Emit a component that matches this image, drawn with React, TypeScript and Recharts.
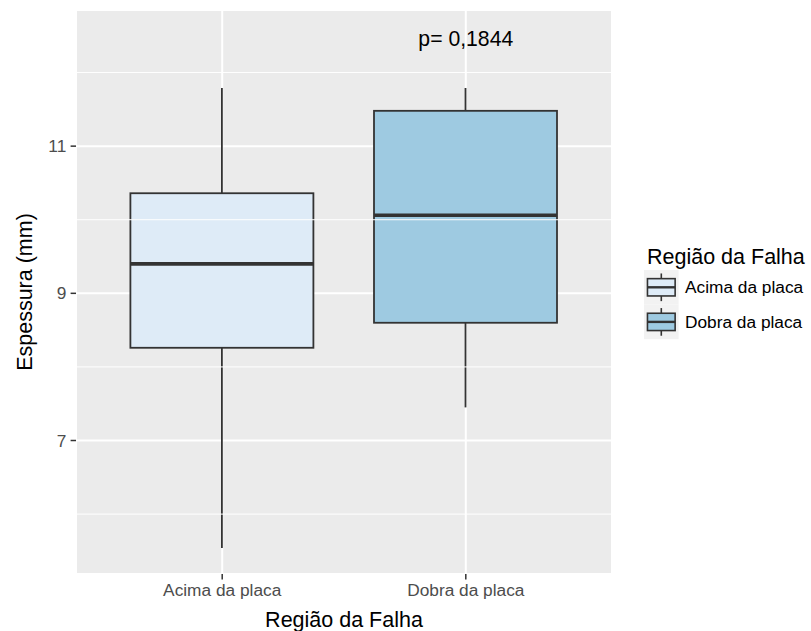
import {
  ComposedChart,
  Bar,
  XAxis,
  YAxis,
  CartesianGrid,
  ReferenceLine,
  ReferenceDot,
  Legend,
} from "recharts";

// five-number summary per failure region
const categories = ["Acima da placa", "Dobra da placa"];
const lowerWhisker = [5.54, 7.45];
const firstQuartile = [8.26, 8.6];
const medians = [9.4, 10.06];
const thirdQuartile = [10.36, 11.48];
const upperWhisker = [11.79, 11.79];
const fills = ["#deebf7", "#9ecae1"];

const yTicks = [7, 9, 11];
const yMinorTicks = [6, 8, 10, 12];
const yDomain = [5.186, 12.85];

const pValueText = "p= 0,1844";
const pValueY = 12.46;

const FONT = '"Liberation Sans", Arial, Helvetica, sans-serif';
const INK = "#333333";
const AXIS_TEXT = "#4d4d4d";

const rows = categories.map((name, i) => ({
  name,
  min: lowerWhisker[i],
  q1: firstQuartile[i],
  med: medians[i],
  q3: thirdQuartile[i],
  max: upperWhisker[i],
  fill: fills[i],
}));

// The bar itself spans [min, max]; the rest of the box is mapped linearly inside it.
function BoxShape(props: any) {
  const { x, y, width, height, payload } = props;
  const top = Math.min(y, y + height);
  const bottom = Math.max(y, y + height);
  const span = payload.max - payload.min;
  const toY = (v: number) => bottom - ((v - payload.min) / span) * (bottom - top);
  const cx = x + width / 2;
  const yq1 = toY(payload.q1);
  const yq3 = toY(payload.q3);
  const ymed = toY(payload.med);
  return (
    <g>
      <line x1={cx} x2={cx} y1={top} y2={yq3} stroke={INK} strokeWidth={1.8} />
      <line x1={cx} x2={cx} y1={yq1} y2={bottom} stroke={INK} strokeWidth={1.8} />
      <rect
        x={x}
        y={yq3}
        width={width}
        height={yq1 - yq3}
        fill={payload.fill}
        stroke={INK}
        strokeWidth={1.8}
      />
      <line x1={x} x2={x + width} y1={ymed} y2={ymed} stroke={INK} strokeWidth={3.6} />
    </g>
  );
}

function YTitle({ viewBox }: any) {
  const cx = viewBox.x + 31.5;
  const cy = viewBox.y + viewBox.height / 2;
  return (
    <text
      x={cx}
      y={cy}
      transform={`rotate(-90, ${cx}, ${cy})`}
      textAnchor="middle"
      fontSize={21.5}
      fill="#000"
      fontFamily={FONT}
    >
      Espessura (mm)
    </text>
  );
}

function XTitle({ viewBox }: any) {
  return (
    <text
      x={viewBox.x + viewBox.width / 2}
      y={viewBox.y + viewBox.height - 4.5}
      textAnchor="middle"
      fontSize={21.5}
      fill="#000"
      fontFamily={FONT}
    >
      Região da Falha
    </text>
  );
}

function LegendBlock() {
  const key = 34.6;
  return (
    <svg width={171} height={105} style={{ display: "block", fontFamily: FONT }}>
      <text x={7} y={24} fontSize={21.5} fill="#000">
        Região da Falha
      </text>
      {categories.map((name, i) => {
        const kx = 4;
        const ky = 30 + i * key;
        const gx = kx + key * 0.1;
        const gw = key * 0.8;
        const cx = kx + key / 2;
        return (
          <g key={name}>
            <rect x={kx} y={ky} width={key} height={key} fill="#f2f2f2" />
            <line x1={cx} x2={cx} y1={ky + key * 0.1} y2={ky + key * 0.9} stroke={INK} strokeWidth={1.6} />
            <rect
              x={gx}
              y={ky + key * 0.25}
              width={gw}
              height={key * 0.5}
              fill={fills[i]}
              stroke={INK}
              strokeWidth={1.6}
            />
            <line x1={gx} x2={gx + gw} y1={ky + key / 2} y2={ky + key / 2} stroke={INK} strokeWidth={2.4} />
            <text x={45} y={ky + key / 2} dy="0.35em" fontSize={17.3} fill="#000">
              {name}
            </text>
          </g>
        );
      })}
    </svg>
  );
}

export default function App() {
  return (
    <div style={{ position: "absolute", left: 0, top: 0, fontFamily: FONT, background: "#fff" }}>
      <ComposedChart
        width={811}
        height={631}
        data={rows}
        margin={{ top: 10, right: 199, bottom: 0, left: 0 }}
        style={{ fontFamily: FONT }}
      >
        <CartesianGrid fill="#ebebeb" stroke="#ffffff" strokeWidth={2} />
        {yMinorTicks.map((v) => (
          <ReferenceLine key={v} y={v} stroke="#ffffff" strokeWidth={1} />
        ))}
        <XAxis
          dataKey="name"
          type="category"
          interval={0}
          padding={{ left: 24.4, right: 24.4 }}
          height={57}
          axisLine={false}
          tickSize={5.4}
          tickMargin={4}
          tickLine={{ stroke: INK, strokeWidth: 1.5 }}
          tick={{ fill: AXIS_TEXT, fontSize: 17.3, fontFamily: FONT }}
          label={<XTitle />}
        />
        <YAxis
          type="number"
          width={76}
          domain={yDomain}
          ticks={yTicks}
          allowDataOverflow
          axisLine={false}
          tickSize={5.4}
          tickMargin={4.3}
          tickLine={{ stroke: INK, strokeWidth: 1.5 }}
          tick={{ fill: AXIS_TEXT, fontSize: 17.3, fontFamily: FONT }}
          label={<YTitle />}
        />
        <Bar
          dataKey={(d: any) => [d.min, d.max]}
          barSize={183}
          shape={<BoxShape />}
          isAnimationActive={false}
        />
        <ReferenceDot
          x={categories[1]}
          y={pValueY}
          r={0}
          fill="none"
          stroke="none"
          label={{
            value: pValueText,
            position: "center",
            fontSize: 21.2,
            fill: "#000",
            fontFamily: FONT,
          }}
        />
        <Legend
          layout="vertical"
          align="center"
          verticalAlign="middle"
          wrapperStyle={{ left: 640, top: 240, width: 171, height: 105 }}
          content={() => <LegendBlock />}
        />
      </ComposedChart>
    </div>
  );
}
